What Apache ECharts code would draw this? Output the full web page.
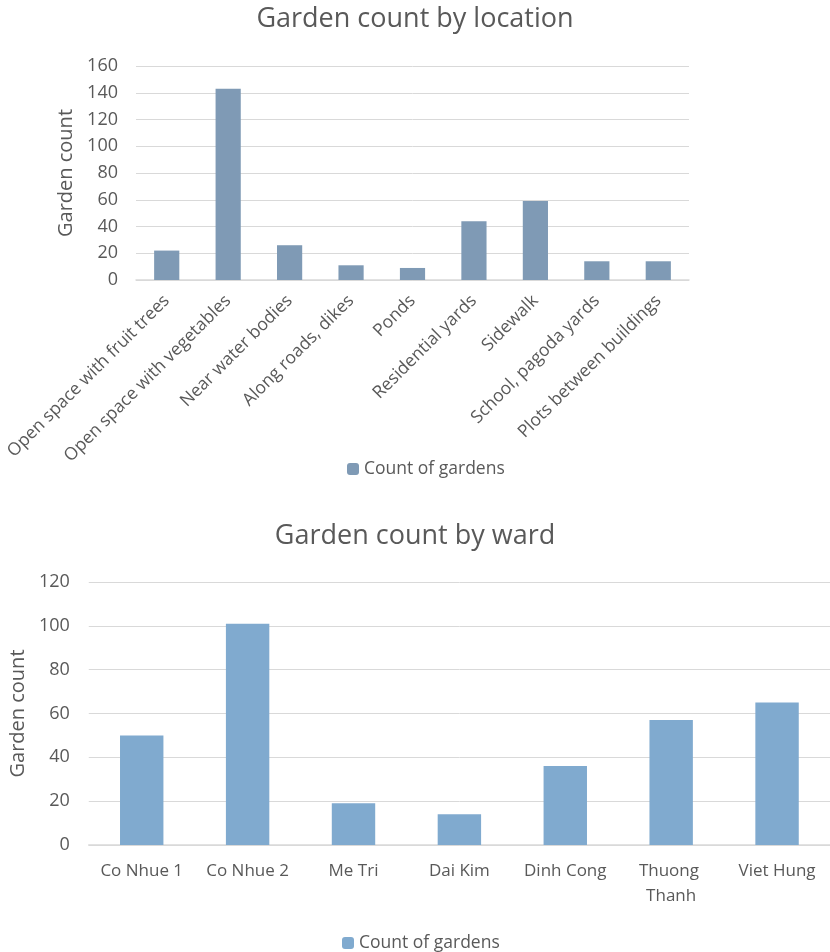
<!DOCTYPE html>
<html><head><meta charset="utf-8">
<script src="https://cdn.jsdelivr.net/npm/echarts@6/dist/echarts.min.js"></script>
<style>html,body{margin:0;padding:0;background:#fff}#c{width:830px;height:952px}</style>
</head><body><div id="c"></div>
<script>
const locationCategories = ['Open space with fruit trees','Open space with vegetables','Near water bodies','Along roads, dikes','Ponds','Residential yards','Sidewalk','School, pagoda yards','Plots between buildings'];
const locationValues = [22, 143, 26, 11, 9, 44, 59, 14, 14];
const locationTicks = [0, 20, 40, 60, 80, 100, 120, 140, 160];
const wardCategories = ['Co Nhue 1','Co Nhue 2','Me Tri','Dai Kim','Dinh Cong','Thuong Thanh','Viet Hung'];
const wardValues = [50, 101, 19, 14, 36, 57, 65];
const wardTicks = [0, 20, 40, 60, 80, 100, 120];
const seriesName = 'Count of gardens';

const FONT = '"Open Sans", "Liberation Sans", sans-serif';
const TXT = '#595959';
const chart = echarts.init(document.getElementById('c'), null, {renderer: 'canvas'});
chart.setOption({
  animation: false,
  textStyle: {fontFamily: FONT, color: TXT},
  title: [
    {text: 'Garden count by location', left: 'center', top: 1, textStyle: {fontSize: 27, fontWeight: 'normal', color: TXT, fontFamily: FONT}},
    {text: 'Garden count by ward', left: 'center', top: 518, textStyle: {fontSize: 27, fontWeight: 'normal', color: TXT, fontFamily: FONT}}
  ],
  legend: [
    {data: [{name: 'top'}], top: 455, left: 342, itemWidth: 12, itemHeight: 12, itemGap: 5, textStyle: {fontSize: 17.5, color: TXT, fontFamily: FONT},
     formatter: () => seriesName},
    {data: [{name: 'bottom'}], top: 929, left: 337, itemWidth: 12, itemHeight: 12, itemGap: 5, textStyle: {fontSize: 17.5, color: TXT, fontFamily: FONT},
     formatter: () => seriesName}
  ],
  grid: [
    {left: 136, right: 141, top: 66, height: 214},
    {left: 85, right: 0, top: 582, height: 263}
  ],
  xAxis: [
    {gridIndex: 0, type: 'category', data: locationCategories,
     axisLine: {lineStyle: {color: '#d9d9d9', width: 1.5}}, axisTick: {show: false},
     axisLabel: {rotate: 45, fontSize: 17.5, color: TXT, fontFamily: FONT, margin: 18, interval: 0}},
    {gridIndex: 1, type: 'category', data: wardCategories,
     axisLine: {lineStyle: {color: '#d9d9d9', width: 1.5}}, axisTick: {show: false},
     axisLabel: {fontSize: 17, color: TXT, fontFamily: FONT, margin: 14, interval: 0, width: 95, overflow: 'break', lineHeight: 25}}
  ],
  yAxis: [
    {gridIndex: 0, type: 'value', min: locationTicks[0], max: locationTicks[locationTicks.length-1], interval: 20,
     name: 'Garden count', nameLocation: 'middle', nameGap: 58, nameTextStyle: {fontSize: 20, color: TXT, fontFamily: FONT},
     axisLabel: {fontSize: 18, color: TXT, fontFamily: FONT, margin: 18},
     splitLine: {lineStyle: {color: '#d9d9d9', width: 1}}, axisLine: {show: false}, axisTick: {show: false}},
    {gridIndex: 1, type: 'value', min: wardTicks[0], max: wardTicks[wardTicks.length-1], interval: 20,
     name: 'Garden count', nameLocation: 'middle', nameGap: 58, nameTextStyle: {fontSize: 20, color: TXT, fontFamily: FONT},
     axisLabel: {fontSize: 18, color: TXT, fontFamily: FONT, margin: 19},
     splitLine: {lineStyle: {color: '#d9d9d9', width: 1}}, axisLine: {show: false}, axisTick: {show: false}}
  ],
  series: [
    {name: 'top', type: 'bar', xAxisIndex: 0, yAxisIndex: 0, data: locationValues, barWidth: '41%',
     itemStyle: {color: '#7f9ab5'}},
    {name: 'bottom', type: 'bar', xAxisIndex: 1, yAxisIndex: 1, data: wardValues, barWidth: '41%',
     itemStyle: {color: '#80aacf'}}
  ]
});
</script></body></html>
